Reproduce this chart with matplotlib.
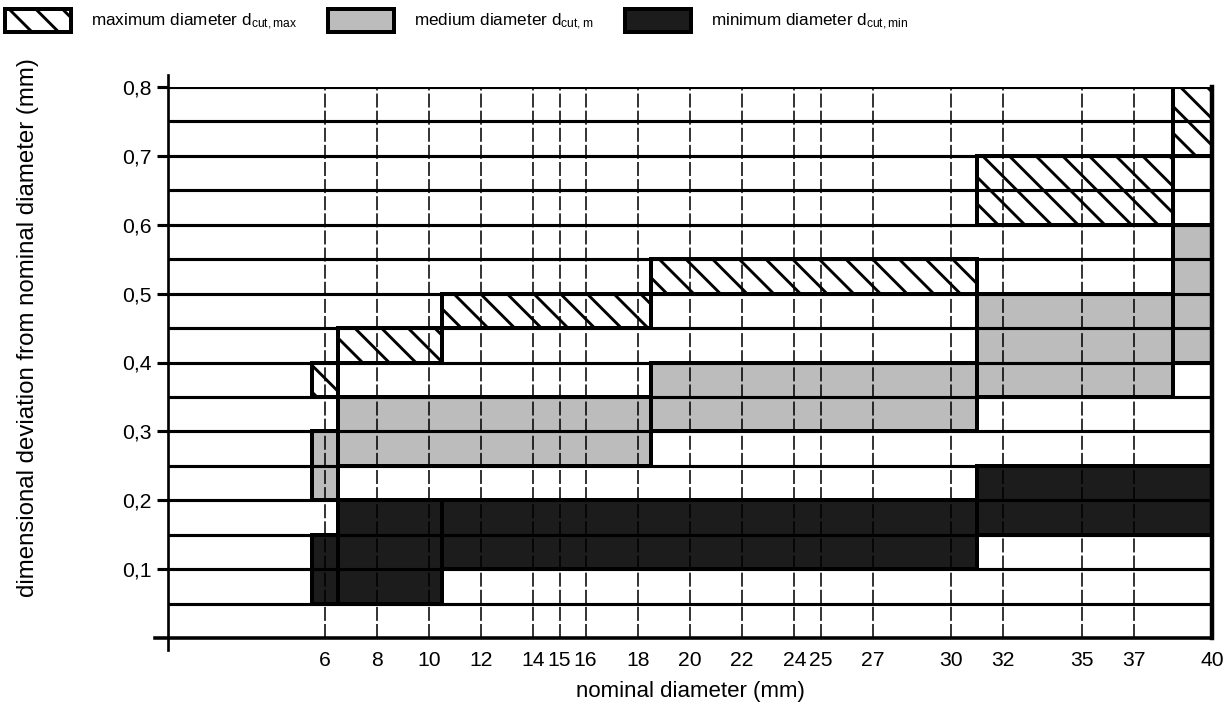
import matplotlib
matplotlib.use('Agg')
import matplotlib.pyplot as plt
from matplotlib.patches import Patch

plt.rcParams['font.family'] = ['Liberation Sans', 'DejaVu Sans']
plt.rcParams['mathtext.fontset'] = 'custom'
plt.rcParams['mathtext.rm'] = 'Liberation Sans'
plt.rcParams['mathtext.it'] = 'Liberation Sans'
plt.rcParams['hatch.linewidth'] = 1.3

# nominal diameter ticks (mm)
nominal = [6, 8, 10, 12, 14, 15, 16, 18, 20, 22, 24, 25, 27, 30, 32, 35, 37, 40]
dev_ticks = [0.1, 0.2, 0.3, 0.4, 0.5, 0.6, 0.7, 0.8]
dev_labels = ['0,1', '0,2', '0,3', '0,4', '0,5', '0,6', '0,7', '0,8']
grid_levels = [0.05, 0.1, 0.15, 0.2, 0.25, 0.3, 0.35, 0.4, 0.45, 0.5,
               0.55, 0.6, 0.65, 0.7, 0.75, 0.8]

# maximum diameter d_cut,max : diameter ranges and deviation ranges
max_edges = [5.5, 6.5, 10.5, 18.5, 31, 38.5, 40]
max_low = [0.35, 0.40, 0.45, 0.50, 0.60, 0.70]
max_high = [0.40, 0.45, 0.50, 0.55, 0.70, 0.80]

# medium diameter d_cut,m
med_edges = [5.5, 6.5, 18.5, 31, 38.5, 40]
med_low = [0.20, 0.25, 0.30, 0.35, 0.40]
med_high = [0.30, 0.35, 0.40, 0.50, 0.60]

# minimum diameter d_cut,min
min_edges = [5.5, 6.5, 10.5, 31, 40]
min_low = [0.05, 0.05, 0.10, 0.15]
min_high = [0.15, 0.20, 0.20, 0.25]

hatch_style = dict(facecolor='white', edgecolor='black', hatch='\\\\')
med_style = dict(facecolor='#bcbcbc', edgecolor='black')
min_style = dict(facecolor='#1c1c1c', edgecolor='black')

fig = plt.figure(figsize=(1229 / 160, 711 / 160), dpi=160)
ax = fig.add_axes([168 / 1229, 1 - 638 / 711, 1044 / 1229, 551 / 711])


def draw(edges, low, high, style):
    left = edges[:-1]
    width = [b - a for a, b in zip(edges[:-1], edges[1:])]
    height = [h - l for l, h in zip(low, high)]
    ax.bar(left, height, width=width, bottom=low, align='edge',
           linewidth=1.8, zorder=2, **style)


draw(max_edges, max_low, max_high, hatch_style)
draw(med_edges, med_low, med_high, med_style)
draw(min_edges, min_low, min_high, min_style)

ax.hlines(grid_levels, 0, 40, colors='black', linewidth=1.4, zorder=3)
ax.vlines(nominal[:-1], 0, 0.8, colors='black', linewidth=0.7,
          linestyles=(0, (9, 2)), zorder=3)

ax.set_xlim(0, 40)
ax.set_ylim(0, 0.8)
for s in ['top', 'left', 'bottom']:
    ax.spines[s].set_visible(False)
ax.spines['right'].set_linewidth(2.0)
ax.plot([0, 0], [-0.017, 0.818], color='black', lw=1.2, clip_on=False, zorder=4)
ax.plot([-0.5, 40], [0, 0], color='black', lw=1.6, clip_on=False, zorder=4)

ax.set_xticks(nominal)
ax.set_xticklabels([str(v) for v in nominal])
ax.set_yticks(dev_ticks)
ax.set_yticklabels(dev_labels)
ax.tick_params(axis='x', length=0, pad=6, labelsize=9.5)
ax.tick_params(axis='y', direction='out', length=5, width=1.4, pad=2.5, labelsize=9.5)

ax.set_xlabel('nominal diameter (mm)', fontsize=10)
ax.xaxis.set_label_coords(0.5, -0.078)
ax.set_ylabel('dimensional deviation from nominal diameter (mm)', fontsize=10.8)
ax.yaxis.set_label_coords(-0.124, 0.563)

handles = [Patch(linewidth=1.8, **hatch_style),
           Patch(linewidth=1.8, **med_style),
           Patch(linewidth=1.8, **min_style)]
labels = [r'maximum diameter d$_{\mathrm{cut,max}}$',
          r'medium diameter d$_{\mathrm{cut,m}}$',
          r'minimum diameter d$_{\mathrm{cut,min}}$']
fig.legend(handles, labels, loc='upper left', bbox_to_anchor=(0.003, 0.99),
           ncol=3, frameon=False, fontsize=7.7, handlelength=3.85,
           handleheight=1.75, handletextpad=1.15, columnspacing=1.85,
           borderaxespad=0, borderpad=0.1)

fig.savefig('out.png', dpi=160)
